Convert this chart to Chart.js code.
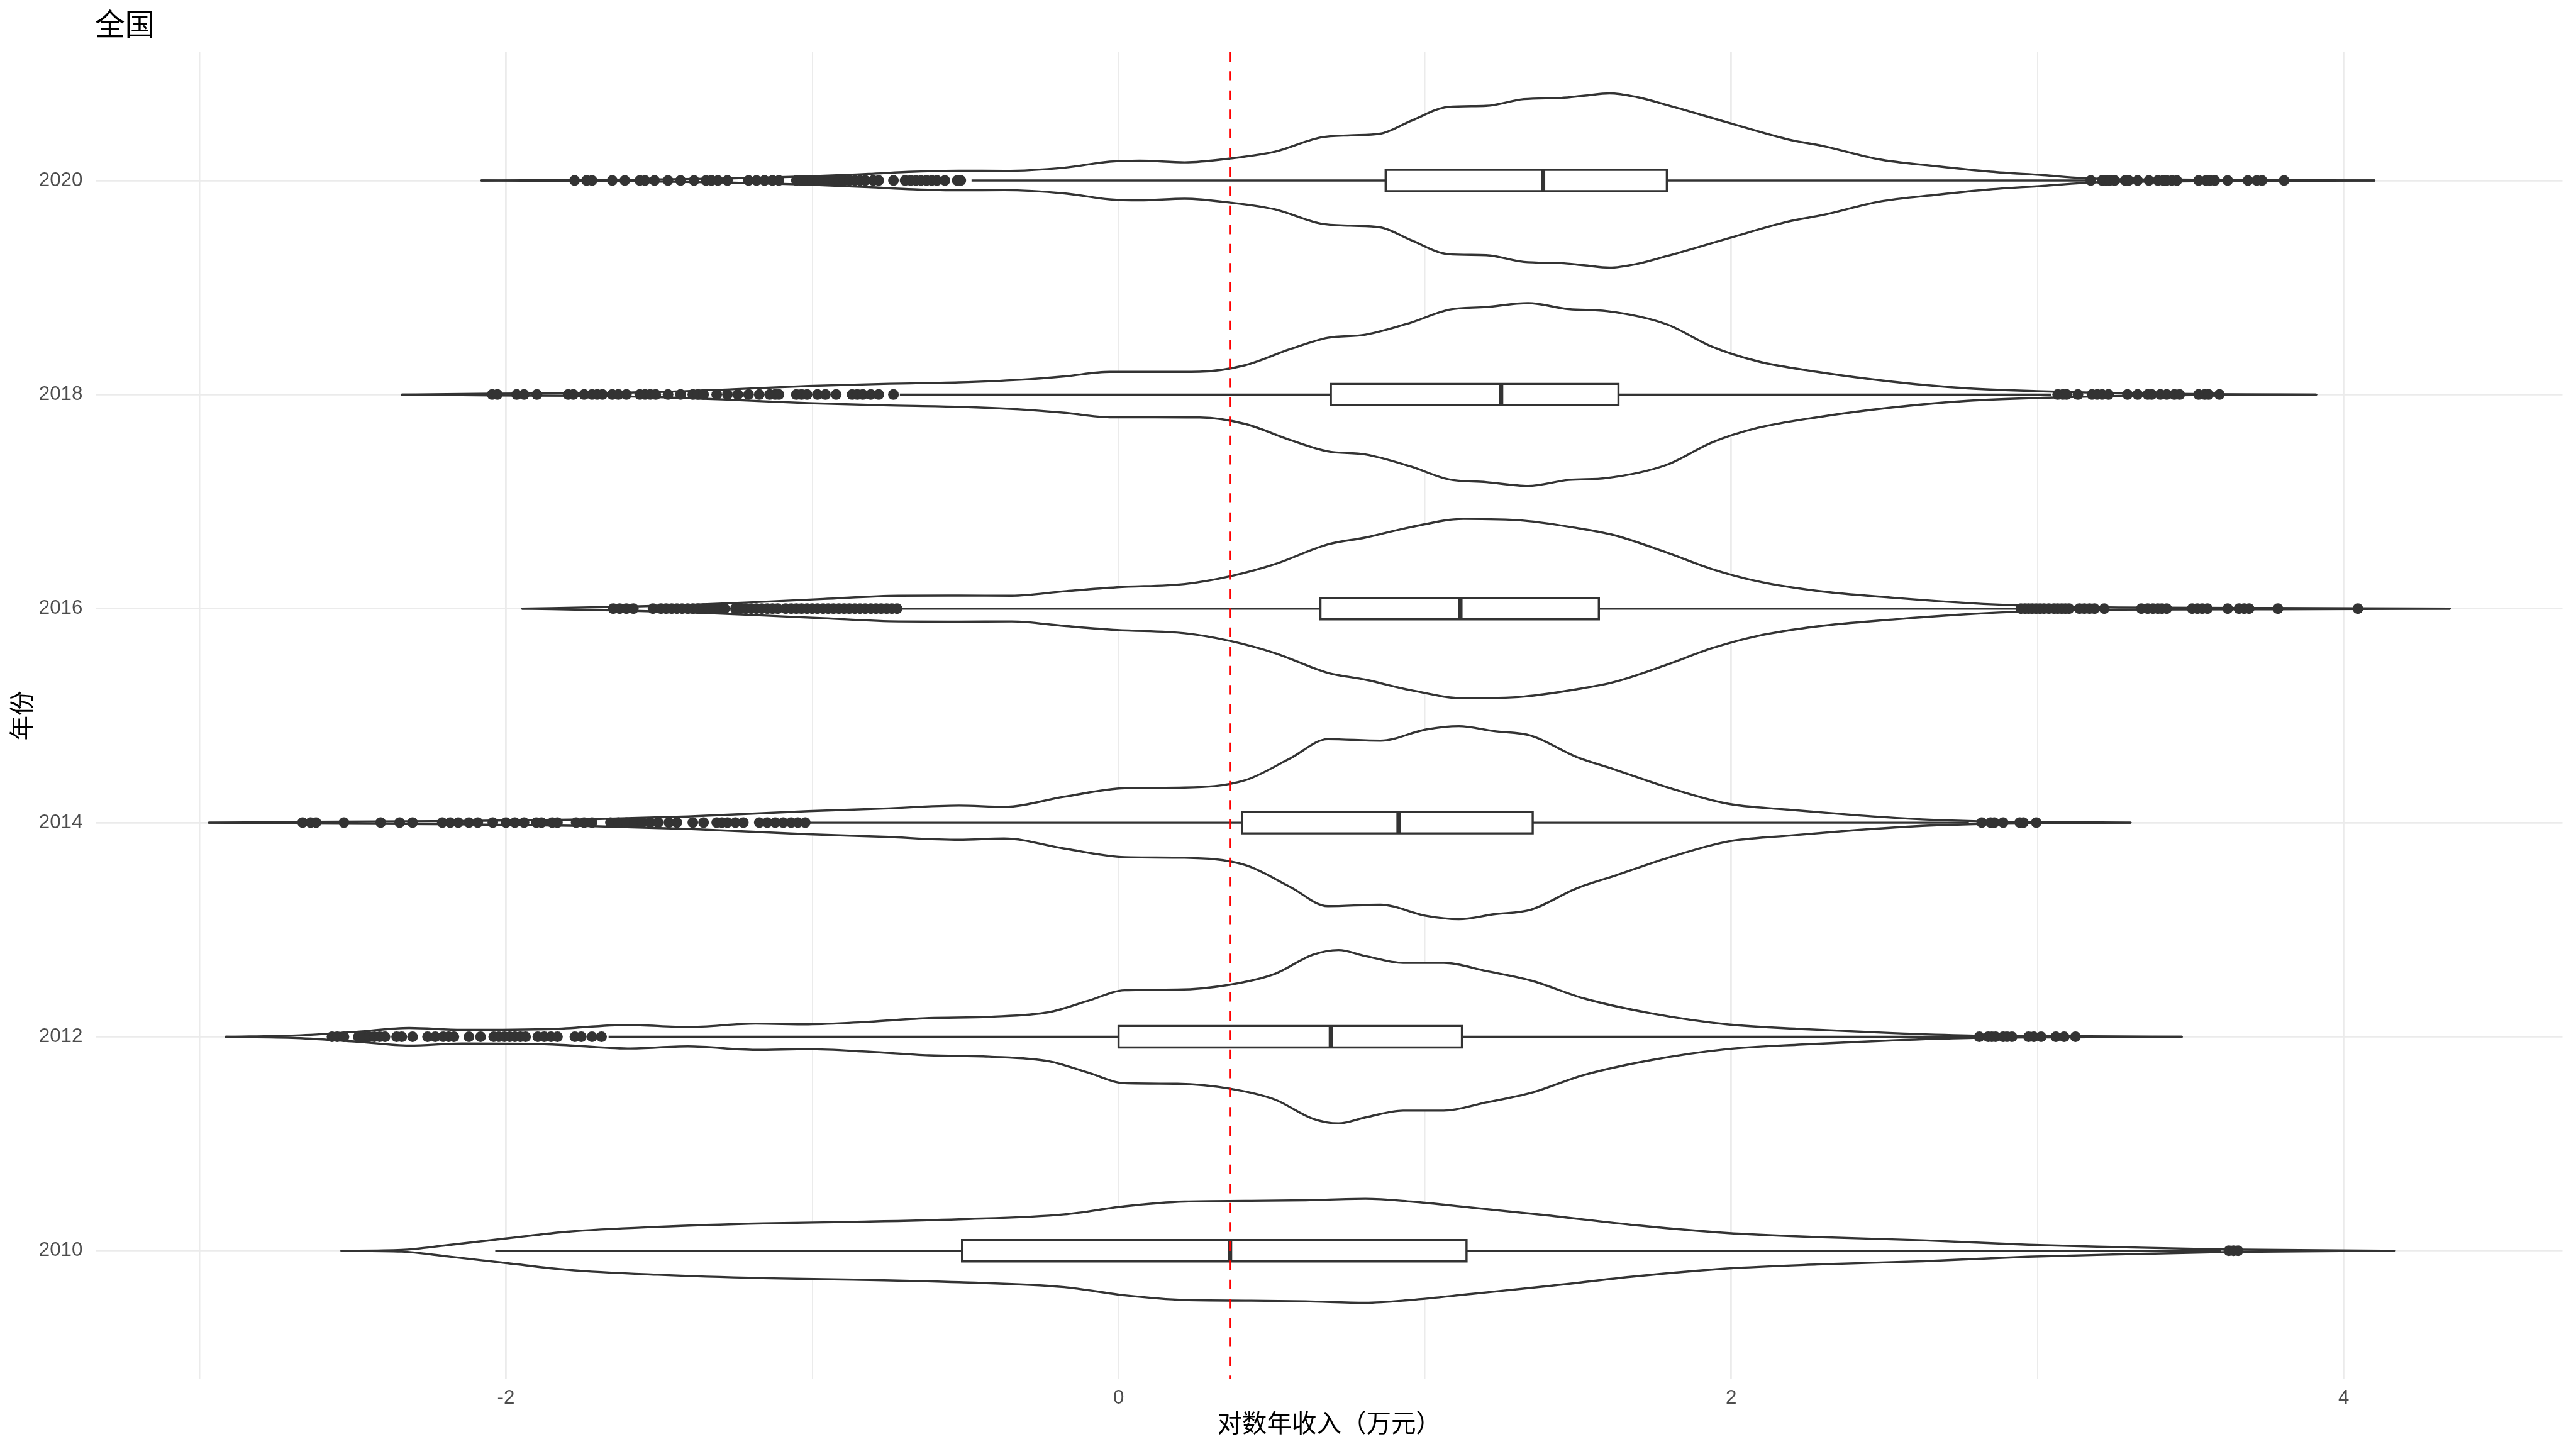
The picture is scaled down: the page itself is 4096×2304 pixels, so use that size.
<!DOCTYPE html>
<html>
<head>
<meta charset="utf-8">
<script src="https://cdn.jsdelivr.net/npm/chart.js@4.4.1/dist/chart.umd.min.js"></script>
<style>
html,body{margin:0;padding:0;background:#ffffff;}
#wrap{width:4096px;height:2304px;position:relative;}
</style>
</head>
<body>
<div id="wrap"><canvas id="c"></canvas></div>
<script>
// ---------------- data ----------------
const mainTitle = '全国';
const xTitle = '对数年收入（万元）';
const yTitle = '年份';
const years = ['2010', '2012', '2014', '2016', '2018', '2020'];
const xMajorTicks = [-2, 0, 2, 4];
const xMinorTicks = [-3, -1, 1, 3];
const refLineX = 0.364;

// violin profiles: x positions and half-widths (in category units)
const violinX2010 = [-2.537,-2.340,-2.193,-1.996,-1.799,-1.504,-1.160,-0.865,-0.521,-0.177,0.020,0.216,0.413,0.610,0.806,0.954,1.150,1.396,1.691,1.986,2.281,2.625,2.970,3.265,3.609,3.854,4.164];
const violinW2010 = [0,0.004,0.026,0.058,0.089,0.112,0.128,0.135,0.147,0.170,0.208,0.230,0.233,0.236,0.243,0.230,0.202,0.166,0.119,0.083,0.064,0.049,0.028,0.017,0.006,0.003,0];

const violinX2012 = [-2.915,-2.684,-2.488,-2.316,-2.144,-1.849,-1.603,-1.406,-1.185,-1.013,-0.816,-0.619,-0.423,-0.226,-0.103,0.020,0.192,0.364,0.511,0.634,0.718,0.806,0.929,1.062,1.200,1.347,1.519,1.740,1.986,2.232,2.527,2.773,3.068,3.471];
const violinW2012 = [0,0.006,0.023,0.041,0.032,0.036,0.055,0.045,0.061,0.058,0.070,0.087,0.093,0.115,0.166,0.217,0.220,0.243,0.294,0.383,0.405,0.377,0.345,0.345,0.307,0.262,0.179,0.109,0.058,0.036,0.017,0.006,0.003,0];

const violinX2014 = [-2.970,-2.635,-2.144,-1.750,-1.406,-1.013,-0.767,-0.521,-0.374,-0.177,0.020,0.216,0.413,0.560,0.683,0.855,1.003,1.111,1.224,1.347,1.495,1.618,1.790,1.986,2.183,2.380,2.577,2.773,3.019,3.304];
const violinW2014 = [0,0.004,0.008,0.015,0.029,0.054,0.066,0.080,0.074,0.121,0.161,0.164,0.198,0.300,0.390,0.383,0.435,0.451,0.428,0.406,0.307,0.249,0.166,0.089,0.061,0.038,0.019,0.008,0.003,0];

const violinX2016 = [-1.947,-1.652,-1.406,-1.160,-0.964,-0.718,-0.521,-0.349,-0.177,-0.005,0.216,0.364,0.511,0.683,0.806,0.954,1.126,1.323,1.495,1.618,1.790,1.937,2.085,2.281,2.527,2.773,2.970,3.265,3.756,4.346];
const violinW2016 = [0,0.008,0.017,0.032,0.045,0.060,0.061,0.060,0.081,0.100,0.115,0.151,0.208,0.300,0.332,0.381,0.419,0.411,0.377,0.343,0.262,0.185,0.128,0.083,0.051,0.026,0.013,0.005,0.003,0];

const violinX2018 = [-2.340,-2.045,-1.750,-1.504,-1.259,-1.013,-0.767,-0.521,-0.324,-0.177,-0.029,0.118,0.265,0.413,0.560,0.683,0.806,0.954,1.077,1.200,1.337,1.470,1.593,1.790,1.937,2.085,2.281,2.527,2.773,3.019,3.265,3.560,3.910];
const violinW2018 = [0,0.004,0.006,0.012,0.025,0.040,0.050,0.057,0.069,0.085,0.106,0.106,0.107,0.137,0.212,0.265,0.280,0.336,0.396,0.409,0.427,0.399,0.390,0.328,0.224,0.156,0.106,0.060,0.029,0.015,0.006,0.002,0];

const violinX2020 = [-2.080,-1.947,-1.652,-1.259,-1.013,-0.816,-0.669,-0.521,-0.374,-0.177,-0.029,0.069,0.216,0.364,0.511,0.659,0.757,0.855,0.954,1.077,1.200,1.323,1.445,1.519,1.603,1.691,1.790,1.986,2.183,2.306,2.478,2.675,2.847,3.019,3.142,3.265,3.510,3.805,4.100];
const violinW2020 = [0,0.001,0.0025,0.010,0.019,0.031,0.041,0.046,0.045,0.060,0.088,0.093,0.085,0.103,0.135,0.201,0.211,0.219,0.278,0.344,0.349,0.380,0.386,0.396,0.407,0.390,0.353,0.272,0.193,0.159,0.100,0.066,0.041,0.025,0.012,0.006,0.004,0.002,0];

// box plot statistics per year (2010 ... 2020)
const boxQ1     = [-0.511, 0.000, 0.403, 0.659, 0.693, 0.872];
const boxMedian = [ 0.364, 0.693, 0.914, 1.116, 1.249, 1.386];
const boxQ3     = [ 1.136, 1.121, 1.352, 1.568, 1.632, 1.790];
const whiskerLow  = [-2.035, -1.665, -1.010, -0.710, -0.714, -0.480];
const whiskerHigh = [ 3.600,  2.795,  2.776,  2.935,  3.045,  3.160];

// outliers
const outliers2010 = [3.625, 3.640, 3.655];
const outliers2012 = [-2.568,-2.551,-2.529,-2.482,-2.464,-2.447,-2.430,-2.412,-2.395,-2.357,-2.340,-2.305,-2.256,-2.231,-2.205,-2.187,-2.170,-2.121,-2.083,-2.040,-2.023,-2.005,-1.988,-1.971,-1.953,-1.936,-1.896,-1.875,-1.853,-1.832,-1.775,-1.754,-1.719,-1.688,
  2.810,2.839,2.851,2.863,2.888,2.901,2.917,2.971,2.988,3.012,3.060,3.087,3.124];
const outliers2014 = [-2.664,-2.638,-2.620,-2.529,-2.409,-2.347,-2.305,-2.208,-2.182,-2.156,-2.121,-2.092,-2.043,-2.000,-1.971,-1.941,-1.901,-1.884,-1.849,-1.832,-1.771,-1.745,-1.719,-1.659,-1.633,-1.607,-1.581,-1.555,-1.529,-1.503,-1.468,-1.442,-1.390,-1.355,-1.312,-1.295,-1.277,-1.251,-1.225,-1.173,-1.147,-1.121,-1.095,-1.069,-1.047,-1.023,
  2.818,2.847,2.859,2.888,2.942,2.954,2.996];
const outliers2016 = [-1.650,-1.629,-1.607,-1.584,-1.520,-1.494,-1.477,-1.459,-1.442,-1.425,-1.407,-1.390,-1.373,-1.355,-1.338,-1.321,-1.303,-1.286,-1.251,-1.234,-1.217,-1.199,-1.182,-1.165,-1.147,-1.130,-1.113,-1.087,-1.069,-1.052,-1.035,-1.017,-1.000,-0.983,-0.965,-0.948,-0.931,-0.913,-0.896,-0.879,-0.861,-0.844,-0.827,-0.809,-0.792,-0.775,-0.757,-0.740,-0.723,
  2.946,2.959,2.971,2.983,2.996,3.008,3.021,3.037,3.054,3.066,3.079,3.091,3.103,3.137,3.153,3.170,3.186,3.218,3.339,3.360,3.377,3.393,3.406,3.422,3.505,3.522,3.538,3.555,3.621,3.658,3.675,3.691,3.785,4.046];
const outliers2018 = [-2.045,-2.028,-1.965,-1.941,-1.899,-1.797,-1.780,-1.745,-1.719,-1.702,-1.685,-1.653,-1.633,-1.607,-1.563,-1.546,-1.529,-1.511,-1.471,-1.430,-1.390,-1.373,-1.355,-1.312,-1.277,-1.243,-1.208,-1.173,-1.139,-1.121,-1.109,-1.052,-1.035,-1.017,-0.983,-0.957,-0.922,-0.870,-0.853,-0.835,-0.809,-0.783,-0.735,
  3.066,3.083,3.095,3.132,3.178,3.195,3.211,3.232,3.294,3.327,3.360,3.373,3.401,3.422,3.447,3.464,3.526,3.546,3.559,3.594];
const outliers2020 = [-1.776,-1.737,-1.719,-1.653,-1.612,-1.563,-1.546,-1.515,-1.471,-1.430,-1.386,-1.347,-1.329,-1.308,-1.277,-1.208,-1.182,-1.156,-1.130,-1.109,-1.052,-1.035,-1.017,-1.000,-0.983,-0.965,-0.948,-0.931,-0.913,-0.896,-0.879,-0.861,-0.844,-0.827,-0.801,-0.783,-0.735,-0.697,-0.679,-0.662,-0.645,-0.627,-0.610,-0.593,-0.567,-0.527,-0.515,
  3.174,3.211,3.224,3.236,3.252,3.286,3.298,3.327,3.364,3.393,3.410,3.422,3.439,3.455,3.526,3.550,3.563,3.579,3.621,3.687,3.716,3.733,3.805];

// ---------------- assembly ----------------
const violinX = [violinX2010, violinX2012, violinX2014, violinX2016, violinX2018, violinX2020];
const violinW = [violinW2010, violinW2012, violinW2014, violinW2016, violinW2018, violinW2020];
const outliers = [outliers2010, outliers2012, outliers2014, outliers2016, outliers2018, outliers2020];

const INK = '#333333';
const LW = 3.4;
const BOX_HALF = 0.05;
const Y_MIN = -0.6, Y_MAX = years.length - 1 + 0.6;
const X_MIN = -3.34, X_MAX = 4.714;

const datasets = [];
years.forEach((yr, i) => {
  const xs = violinX[i], ws = violinW[i];
  // violin upper contour (filled white to the lower contour)
  datasets.push({
    data: xs.map((x, k) => ({x: x, y: i + ws[k]})),
    borderColor: INK, borderWidth: LW, backgroundColor: '#ffffff',
    fill: '+1', cubicInterpolationMode: 'monotone', pointRadius: 0,
    borderJoinStyle: 'round', borderCapStyle: 'round', order: 60
  });
  // violin lower contour
  datasets.push({
    data: xs.map((x, k) => ({x: x, y: i - ws[k]})),
    borderColor: INK, borderWidth: LW, fill: false,
    cubicInterpolationMode: 'monotone', pointRadius: 0,
    borderJoinStyle: 'round', borderCapStyle: 'round', order: 50
  });
  // whiskers
  datasets.push({
    data: [{x: whiskerLow[i], y: i}, {x: boxQ1[i], y: i}],
    borderColor: INK, borderWidth: LW, fill: false, pointRadius: 0, order: 40
  });
  datasets.push({
    data: [{x: boxQ3[i], y: i}, {x: whiskerHigh[i], y: i}],
    borderColor: INK, borderWidth: LW, fill: false, pointRadius: 0, order: 40
  });
  // box outline
  datasets.push({
    data: [
      {x: boxQ1[i], y: i - BOX_HALF}, {x: boxQ3[i], y: i - BOX_HALF},
      {x: boxQ3[i], y: i + BOX_HALF}, {x: boxQ1[i], y: i + BOX_HALF},
      {x: boxQ1[i], y: i - BOX_HALF}
    ],
    borderColor: INK, borderWidth: LW, fill: false, pointRadius: 0,
    tension: 0.0000001, borderJoinStyle: 'miter', borderCapStyle: 'square', order: 30
  });
  // median
  datasets.push({
    data: [{x: boxMedian[i], y: i - BOX_HALF}, {x: boxMedian[i], y: i + BOX_HALF}],
    borderColor: INK, borderWidth: LW * 2, fill: false, pointRadius: 0,
    borderCapStyle: 'butt', order: 30
  });
  // outliers
  datasets.push({
    data: outliers[i].map(x => ({x: x, y: i})),
    showLine: false, pointRadius: 8.5, pointBorderWidth: 0,
    pointBackgroundColor: INK, pointBorderColor: INK, order: 20
  });
});
// red dashed reference line
datasets.push({
  data: [{x: refLineX, y: Y_MAX}, {x: refLineX, y: Y_MIN}],
  borderColor: '#FF0000', borderWidth: LW, borderDash: [15.3, 15.2],
  fill: false, pointRadius: 0, order: 10
});

const TICK_FONT = {family: '"Liberation Sans", Arial, sans-serif', size: 31.3};
const TITLE_FONT = {family: '"Noto Sans CJK SC", "Liberation Sans", sans-serif', size: 39.5};

const mainTitlePlugin = {
  id: 'mainTitle',
  afterDraw(chart) {
    const ctx = chart.ctx;
    ctx.save();
    ctx.font = '47.5px "Noto Sans CJK SC", "Liberation Sans", sans-serif';
    ctx.fillStyle = '#000000';
    ctx.textAlign = 'left';
    ctx.textBaseline = 'middle';
    ctx.fillText(mainTitle, chart.chartArea.left - 1, 37.5);
    ctx.restore();
  }
};

new Chart(document.getElementById('c'), {
  type: 'line',
  data: {datasets: datasets},
  plugins: [mainTitlePlugin],
  options: {
    responsive: true,
    maintainAspectRatio: false,
    devicePixelRatio: 1,
    animation: false,
    events: [],
    layout: {padding: {top: 82.8, right: 21.5, bottom: 0, left: 0}},
    plugins: {
      legend: {display: false},
      tooltip: {enabled: false},
      title: {display: false}
    },
    elements: {point: {radius: 0, hitRadius: 0}},
    scales: {
      x: {
        type: 'linear',
        min: X_MIN, max: X_MAX,
        afterBuildTicks: s => {
          s.ticks = xMinorTicks.concat(xMajorTicks).sort((a, b) => a - b).map(v => ({value: v}));
        },
        afterFit: s => { s.height = 111; },
        ticks: {
          autoSkip: false, maxRotation: 0, padding: 11.5,
          font: TICK_FONT, color: '#4D4D4D',
          callback: v => (xMajorTicks.indexOf(v) >= 0 ? String(v) : '')
        },
        grid: {
          drawTicks: false, color: '#EBEBEB',
          lineWidth: c => (c.tick && xMajorTicks.indexOf(c.tick.value) >= 0 ? 2.8 : 1.5)
        },
        border: {display: false},
        title: {display: true, text: xTitle, font: TITLE_FONT, color: '#000000', padding: {top: 0, bottom: 18}}
      },
      y: {
        type: 'linear',
        min: Y_MIN, max: Y_MAX,
        afterBuildTicks: s => { s.ticks = years.map((_, i) => ({value: i})); },
        afterFit: s => { s.width = 151.9; },
        ticks: {
          autoSkip: false, padding: 20.5,
          font: TICK_FONT, color: '#4D4D4D',
          callback: v => years[v]
        },
        grid: {drawTicks: false, color: '#EBEBEB', lineWidth: 2.8},
        border: {display: false},
        title: {display: true, text: yTitle, font: TITLE_FONT, color: '#000000', padding: {top: 10, bottom: 0}}
      }
    }
  }
});
</script>
</body>
</html>
